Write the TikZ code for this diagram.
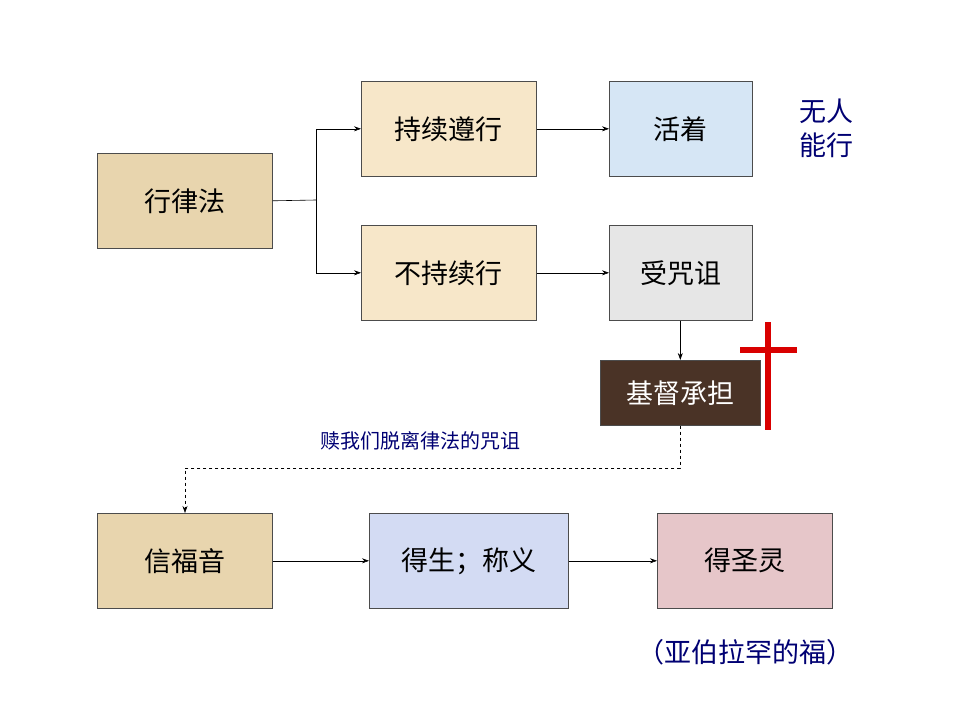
\documentclass[tikz,border=0pt]{standalone}
\usepackage{fontspec}
\setmainfont{Noto Sans CJK SC}
\usetikzlibrary{arrows.meta}
\begin{document}
\begin{tikzpicture}[x=1pt,y=-1pt,
  bx/.style={draw=black!70,line width=0.6pt,anchor=north west,inner sep=0pt,font=\fontsize{27}{30}\selectfont},
  ar/.style={-{Stealth[length=7pt,width=5pt]},line width=0.6pt},
  bl/.style={text=blue!45!black}]
\useasboundingbox[fill=white] (0,0) rectangle (960,720);
\definecolor{tanc}{HTML}{E8D5AE}\definecolor{beig}{HTML}{F7E7C9}\definecolor{lblu}{HTML}{D6E6F5}
\definecolor{lgry}{HTML}{E6E6E6}\definecolor{dbrn}{HTML}{4A3326}\definecolor{lav}{HTML}{D3DBF3}\definecolor{pnk}{HTML}{E6C6C9}
\node[bx,fill=tanc,minimum width=175pt,minimum height=95pt] (law) at (97,153) {行律法};
\node[bx,fill=beig,minimum width=175pt,minimum height=95pt] (keep) at (361,81) {持续遵行};
\node[bx,fill=lblu,minimum width=143pt,minimum height=95pt] (live) at (609,81) {活着};
\node[bx,fill=beig,minimum width=175pt,minimum height=95pt] (nokeep) at (361,225) {不持续行};
\node[bx,fill=lgry,minimum width=143pt,minimum height=95pt] (curse) at (609,225) {受咒诅};
\node[bx,fill=dbrn,text=white,minimum width=160pt,minimum height=65pt] (christ) at (600,360) {基督承担};
\node[bx,fill=tanc,minimum width=175pt,minimum height=95pt] (gospel) at (97,513) {信福音};
\node[bx,fill=lav,minimum width=199pt,minimum height=95pt] (life) at (369,513) {得生；称义};
\node[bx,fill=pnk,minimum width=175pt,minimum height=95pt] (spirit) at (657,513) {得圣灵};
\node[bl,font=\fontsize{27}{34}\selectfont,align=center] (none) at (826,128) {无人\\能行};
\node[bl,font=\fontsize{20}{24}\selectfont] (redeem) at (420,441) {赎我们脱离律法的咒诅};
\node[bl,font=\fontsize{27}{30}\selectfont] (abr) at (745,652) {（亚伯拉罕的福）};
\coordinate (j) at (316,200);
\draw[line width=0.6pt] (law.east) -- (j);
\draw[ar] (j) |- (keep.west);
\draw[ar] (j) |- (nokeep.west);
\draw[ar] (keep) -- (live);
\draw[ar] (nokeep) -- (curse);
\draw[ar] (curse.south -| christ.north) -- (christ.north);
\coordinate (d1) at (680,468);
\draw[ar,dashed] (christ.south -| d1) -- (d1) -| (gospel.north -| 185,0);
\draw[ar] (gospel) -- (life);
\draw[ar] (life) -- (spirit);
\fill[red!85!black] (765,322) rectangle (771,430);
\fill[red!85!black] (740,347) rectangle (797,353);
\end{tikzpicture}
\end{document}
